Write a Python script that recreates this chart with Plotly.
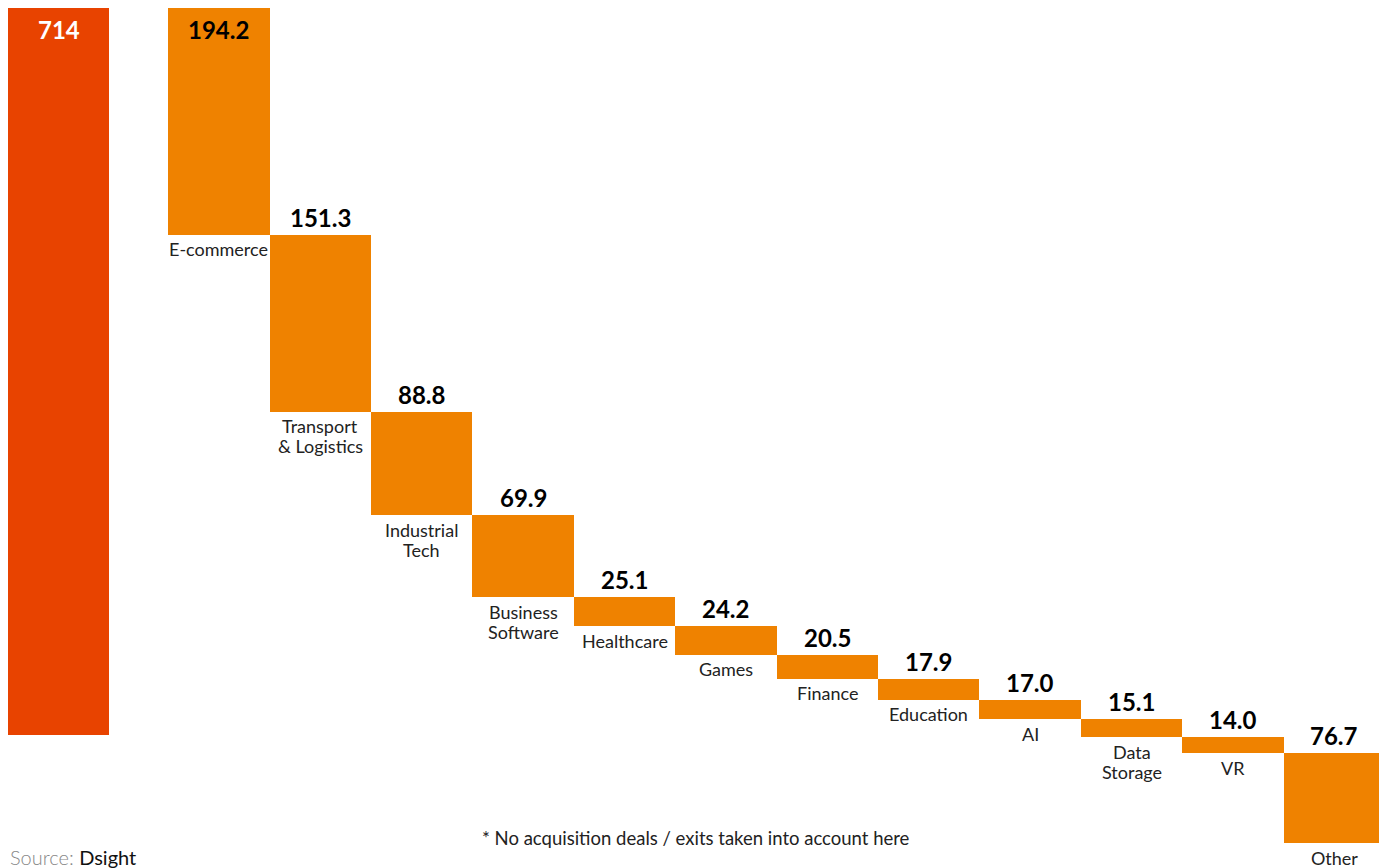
import plotly.graph_objects as go

# ---- data ----
total_label = "714"
total_value = 714
categories = ["E-commerce", "Transport<br>& Logistics", "Industrial<br>Tech", "Business<br>Software",
              "Healthcare", "Games", "Finance", "Education", "AI", "Data<br>Storage", "VR", "Other"]
values = [194.2, 151.3, 88.8, 69.9, 25.1, 24.2, 20.5, 17.9, 17.0, 15.1, 14.0, 76.7]
value_labels = ["194.2", "151.3", "88.8", "69.9", "25.1", "24.2", "20.5", "17.9", "17.0", "15.1", "14.0", "76.7"]
footnote = "* No acquisition deals / exits taken into account here"
source_prefix = "Source: "
source_name = "Dsight"

# ---- styling / layout constants ----
PAGE_OFF = 8            # browser body margin
W, H = 1387 - PAGE_OFF, 868 - PAGE_OFF
ML, MR, MT, MB = 0, 2, 0, 25
TOTAL_COLOR = "#E84300"
BAR_COLOR = "#EF8200"
FONT = "Lato"
GAP = 0.58            # gap between total bar and first category bar (in bar widths)
TOTAL_SCALE = 0.8715  # total bar drawn shorter than stacked height, as in reference
LINE_H = 20           # line spacing of category labels (px)

bases = []
acc = 0.0
for v in values:
    bases.append(acc)
    acc += v
stack_total = acc

x_total = 0
x_sub = [0.5 + GAP + 0.5 + i for i in range(len(values))]

fig = go.Figure()
fig.add_trace(go.Bar(x=[x_total], y=[total_value], base=[0], width=1,
                     marker=dict(color=TOTAL_COLOR, line=dict(width=0)),
                     yaxis="y2", showlegend=False, hoverinfo="skip"))
fig.add_trace(go.Bar(x=x_sub, y=values, base=bases, width=1,
                     marker=dict(color=BAR_COLOR, line=dict(width=0)),
                     showlegend=False, hoverinfo="skip"))

ann = []
ann.append(dict(x=x_total, y=0, xref="x", yref="y2", text="<b>" + total_label + "</b>",
                showarrow=False, yanchor="top", yshift=-5,
                font=dict(family=FONT, size=24, color="white")))
for i, (xc, b, v, lab, cat) in enumerate(zip(x_sub, bases, values, value_labels, categories)):
    if i == 0:
        ann.append(dict(x=xc, y=b, xref="x", yref="y", text="<b>" + lab + "</b>",
                        showarrow=False, yanchor="top", yshift=-5,
                        font=dict(family=FONT, size=24, color="black")))
    else:
        ann.append(dict(x=xc, y=b, xref="x", yref="y", text="<b>" + lab + "</b>",
                        showarrow=False, yanchor="bottom", yshift=1,
                        font=dict(family=FONT, size=24, color="black")))
    for k, line in enumerate(cat.split("<br>")):
        ann.append(dict(x=xc, y=b + v, xref="x", yref="y", text=line,
                        showarrow=False, yanchor="top", yshift=-1.5 - k * LINE_H,
                        font=dict(family=FONT, size=18, color="#222222")))

pw = W - ML - MR
ph = H - MT - MB
plot_bottom = H - MB  # in figure px
ann.append(dict(x=(696 - PAGE_OFF - ML) / pw, y=(plot_bottom - (838 - PAGE_OFF)) / ph,
                xref="paper", yref="paper",
                text=footnote, showarrow=False, xanchor="center", yanchor="middle",
                font=dict(family=FONT, size=18.5, color="#222222")))
ann.append(dict(x=0, y=(plot_bottom - (857 - PAGE_OFF)) / ph, xref="paper", yref="paper",
                text='<span style="font-weight:300;fill:#888888">' + source_prefix + "</span>" + source_name,
                showarrow=False, xanchor="left", yanchor="middle",
                font=dict(family=FONT, size=20, color="#111111")))

fig.update_layout(
    width=W, height=H,
    margin=dict(l=ML, r=MR, t=MT, b=MB),
    paper_bgcolor="white", plot_bgcolor="white",
    bargap=0, barmode="overlay",
    xaxis=dict(range=[-0.5, x_sub[-1] + 0.5], visible=False, fixedrange=True),
    yaxis=dict(range=[stack_total, 0], visible=False, fixedrange=True),
    yaxis2=dict(range=[stack_total / TOTAL_SCALE, 0], overlaying="y", visible=False, fixedrange=True),
    annotations=ann,
)

fig.write_html("out.html", config={"displayModeBar": False})
